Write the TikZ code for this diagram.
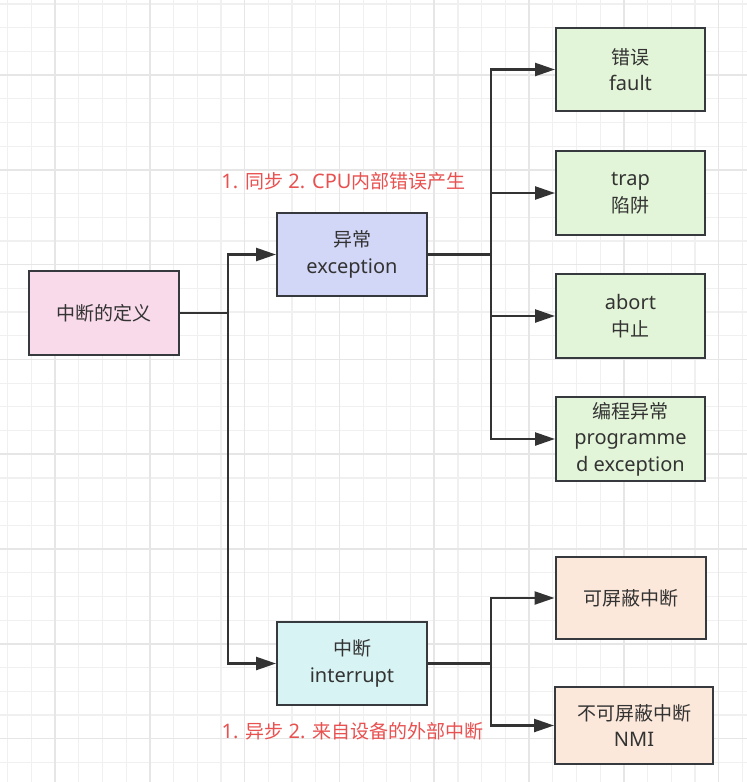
\documentclass[tikz,border=0pt]{standalone}
\usepackage{fontspec}
\setmainfont{Noto Sans}
\newfontfamily\cjk{Noto Sans CJK SC}[Scale=0.95]
\usetikzlibrary{arrows.meta}
\definecolor{ink}{HTML}{333333}
\definecolor{edge}{HTML}{36393D}
\definecolor{gridminor}{HTML}{F0F0F0}
\definecolor{gridmajor}{HTML}{E6E6E6}
\definecolor{pinkfill}{HTML}{F9DAEA}
\definecolor{lavfill}{HTML}{D2D6F7}
\definecolor{cyanfill}{HTML}{D8F3F3}
\definecolor{greenfill}{HTML}{E3F5D8}
\definecolor{peachfill}{HTML}{FBE8DA}
\definecolor{note}{HTML}{E95050}
\tikzset{
  box/.style={draw=edge, line width=2pt, text=ink, align=center,
    font=\fontsize{20}{26.5}\selectfont, inner sep=0pt},
  link/.style={draw=ink, line width=2.4pt},
  arrowlink/.style={link, -{Triangle[length=20pt,width=13pt]}},
  notelabel/.style={text=note, font=\fontsize{20}{24}\selectfont, inner sep=0pt}
}
\begin{document}
\begin{tikzpicture}[x=1pt,y=-1pt]
\useasboundingbox (0,0) rectangle (747,782);
\fill[white] (0,0) rectangle (747,782);
% background grid
\foreach \k in {0,...,32} {
  \pgfmathsetmacro{\gx}{7.6+23.7*\k}
  \draw[gridminor, line width=1.2pt] (\gx,0) -- (\gx,782);
}
\foreach \k in {0,...,33} {
  \pgfmathsetmacro{\gy}{3.9+23.7*\k}
  \draw[gridminor, line width=1.2pt] (0,\gy) -- (747,\gy);
}
\foreach \k in {0,...,7} {
  \pgfmathsetmacro{\gx}{55+94.8*\k}
  \draw[gridmajor, line width=1.6pt] (\gx,0) -- (\gx,782);
}
\foreach \k in {0,...,8} {
  \pgfmathsetmacro{\gy}{75+94.8*\k}
  \draw[gridmajor, line width=1.6pt] (0,\gy) -- (747,\gy);
}

% nodes
\node[box, fill=pinkfill, minimum width=150pt, minimum height=84pt] (def) at (104,313) {\cjk 中断的定义};
\node[box, fill=lavfill, minimum width=150pt, minimum height=83pt] (exc) at (352,254.5) {{\cjk 异常}\\exception};
\node[box, fill=cyanfill, minimum width=150pt, minimum height=83pt] (intr) at (352,663.5) {{\cjk 中断}\\interrupt};
\node[box, fill=greenfill, minimum width=149pt, minimum height=83pt] (fault) at (630.5,69.5) {{\cjk 错误}\\fault};
\node[box, fill=greenfill, minimum width=149pt, minimum height=84pt] (trap) at (630.5,193) {trap\\{\cjk 陷阱}};
\node[box, fill=greenfill, minimum width=149pt, minimum height=84pt] (abort) at (630.5,316) {abort\\{\cjk 中止}};
\node[box, fill=greenfill, minimum width=149pt, minimum height=84pt] (prog) at (630.5,439) {{\cjk 编程异常}\\programme\\d exception};
\node[box, fill=peachfill, minimum width=150pt, minimum height=82pt] (mask) at (630.5,598) {\cjk 可屏蔽中断};
\node[box, fill=peachfill, minimum width=158pt, minimum height=77pt] (nmi) at (634,725.5) {{\cjk 不可屏蔽中断}\\NMI};

% notes
\node[notelabel] (n1) at (343.5,181) {1. {\cjk 同步} 2. CPU{\cjk 内部错误产生}};
\node[notelabel] (n2) at (352.5,731) {1. {\cjk 异步} 2. {\cjk 来自设备的外部中断}};

% junctions
\coordinate (j1) at (228,313);
\coordinate (j2) at (491,254.5);
\coordinate (j3) at (491,663.5);

% connectors
\draw[link] (def.east) -- (j1);
\draw[arrowlink] (j1) |- (exc.west);
\draw[arrowlink] (j1) |- (intr.west);

\draw[link] (exc.east) -- (j2);
\draw[arrowlink] (j2) |- (fault.west);
\draw[arrowlink] (j2) |- (trap.west);
\draw[arrowlink] (j2) |- (abort.west);
\draw[arrowlink] (j2) |- (prog.west);

\draw[link] (intr.east) -- (j3);
\draw[arrowlink] (j3) |- (mask.west);
\draw[arrowlink] (j3) |- (nmi.west);
\end{tikzpicture}
\end{document}
